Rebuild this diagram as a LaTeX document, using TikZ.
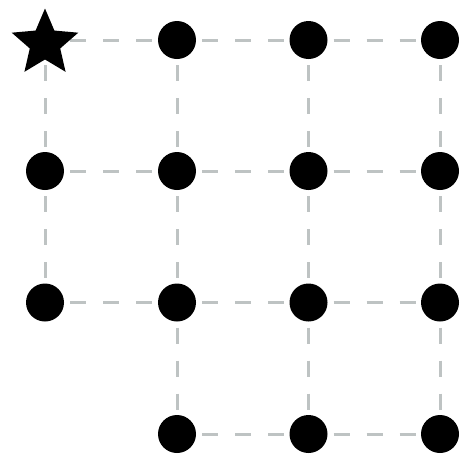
\documentclass[tikz,border=0pt]{standalone}
\usetikzlibrary{backgrounds}
\definecolor{gridgray}{RGB}{190,195,195}
\begin{document}
\begin{tikzpicture}[x=1pt,y=-1pt,
  dot/.style={circle,fill=black,minimum size=38pt,inner sep=0pt},
  gridline/.style={draw=gridgray,line width=3pt,dash pattern=on 16pt off 17pt,dash phase=8pt}]
\useasboundingbox (0,0) rectangle (461,453);
% column x: 45,177,308.5,440 ; row y: 40,171,302.5,434
\coordinate (n00) at (45,40);
\fill[black,shift={(45,43.5)}] (-90:35) \foreach \k in {0,...,4} {
  -- (-54+72*\k:16) -- (-18+72*\k:35) } -- cycle;
\node[dot] (n01) at (177,40) {};
\node[dot] (n02) at (308.5,40) {};
\node[dot] (n03) at (440,40) {};
\node[dot] (n10) at (45,171) {};
\node[dot] (n11) at (177,171) {};
\node[dot] (n12) at (308.5,171) {};
\node[dot] (n13) at (440,171) {};
\node[dot] (n20) at (45,302.5) {};
\node[dot] (n21) at (177,302.5) {};
\node[dot] (n22) at (308.5,302.5) {};
\node[dot] (n23) at (440,302.5) {};
\node[dot] (n31) at (177,434) {};
\node[dot] (n32) at (308.5,434) {};
\node[dot] (n33) at (440,434) {};
\begin{scope}[on background layer]
% horizontal
\draw[gridline] (n00) -- (n01.center);
\draw[gridline] (n01.center) -- (n02.center);
\draw[gridline] (n02.center) -- (n03.center);
\draw[gridline] (n10.center) -- (n11.center);
\draw[gridline] (n11.center) -- (n12.center);
\draw[gridline] (n12.center) -- (n13.center);
\draw[gridline] (n20.center) -- (n21.center);
\draw[gridline] (n21.center) -- (n22.center);
\draw[gridline] (n22.center) -- (n23.center);
\draw[gridline] (n31.center) -- (n32.center);
\draw[gridline] (n32.center) -- (n33.center);
% vertical
\draw[gridline] (n00) -- (n10.center);
\draw[gridline] (n10.center) -- (n20.center);
\draw[gridline] (n01.center) -- (n11.center);
\draw[gridline] (n11.center) -- (n21.center);
\draw[gridline] (n21.center) -- (n31.center);
\draw[gridline] (n02.center) -- (n12.center);
\draw[gridline] (n12.center) -- (n22.center);
\draw[gridline] (n22.center) -- (n32.center);
\draw[gridline] (n03.center) -- (n13.center);
\draw[gridline] (n13.center) -- (n23.center);
\draw[gridline] (n23.center) -- (n33.center);
\end{scope}
\end{tikzpicture}
\end{document}
